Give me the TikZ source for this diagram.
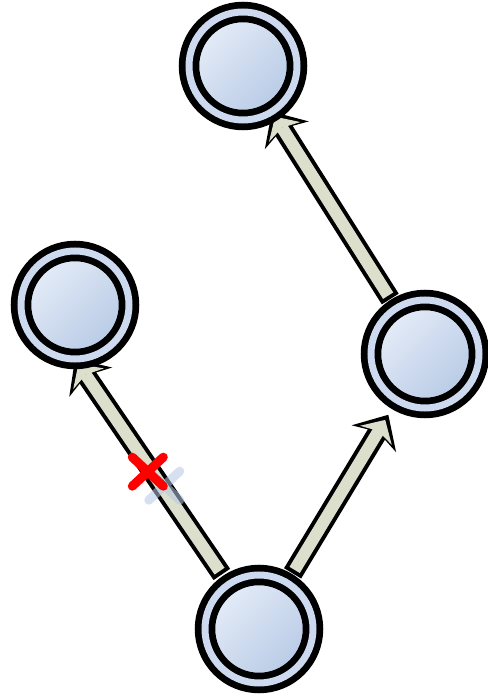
\documentclass[tikz,border=0pt]{standalone}
\usetikzlibrary{arrows.meta, positioning}
\pgfdeclarelayer{background}
\pgfsetlayers{background,main}
\definecolor{nodelight}{RGB}{230,237,248}
\definecolor{nodedark}{RGB}{182,201,229}
\definecolor{ringcol}{RGB}{204,217,239}
\definecolor{shaftcol}{RGB}{220,223,203}
\definecolor{cutred}{RGB}{255,0,0}
\definecolor{cutshadow}{RGB}{180,199,228}
\tikzset{
  state/.style={circle, minimum size=2.16cm, inner sep=0pt, outer sep=0pt,
    draw=black, line width=0.135cm, double=ringcol, double distance=0.14cm,
    top color=nodelight, bottom color=nodedark, shading angle=45},
  arrout/.style={line width=0.40cm, draw=black,
    -{Stealth[length=0.56cm, width=1.04cm, inset=0.16cm, line width=0pt]}},
  arrin/.style={line width=0.24cm, draw=shaftcol,
    -{Stealth[length=0.36cm, width=0.74cm, inset=0.10cm, line width=0pt]}},
  cutmark/.style={line width=0.18cm, line cap=round},
}
\begin{document}
\begin{tikzpicture}[on grid]
  \useasboundingbox (0,0) rectangle (9.76,13.96);

  \node[state] (bottom) at (5.18,1.38) {};
  \node[state, above right=5.50cm and 3.32cm of bottom] (right) {};
  \node[state, above left=6.48cm and 3.68cm of bottom] (left) {};
  \node[state, above left=5.76cm and 3.64cm of right] (top) {};

  % arrows behind the states
  \begin{pgfonlayer}{background}
    \draw[arrout, shorten <=0.24cm] (bottom) -- coordinate[pos=0.5] (cut) (left.south);
    \draw[arrin, shorten <=0.32cm, shorten >=0.12cm] (bottom) -- (left.south);

    \draw[arrout, shorten <=0.22cm, shorten >=0.34cm] (bottom) -- (right);
    \draw[arrin, shorten <=0.30cm, shorten >=0.46cm] (bottom) -- (right);

    \draw[arrout, shorten <=0.22cm] (right) -- (top);
    \draw[arrin, shorten <=0.30cm, shorten >=0.12cm] (right) -- (top);
  \end{pgfonlayer}

  % cut mark with its shadow
  \draw[cutmark, draw=cutshadow, opacity=0.55] ([shift={(0.25,-0.28)}]cut)
    +(-0.31,-0.29) -- +(0.31,0.29) +(-0.31,0.29) -- +(0.31,-0.29);
  \draw[cutmark, draw=cutred] ([xshift=-0.08cm]cut)
    +(-0.31,-0.29) -- +(0.31,0.29) +(-0.31,0.29) -- +(0.31,-0.29);

\end{tikzpicture}
\end{document}
